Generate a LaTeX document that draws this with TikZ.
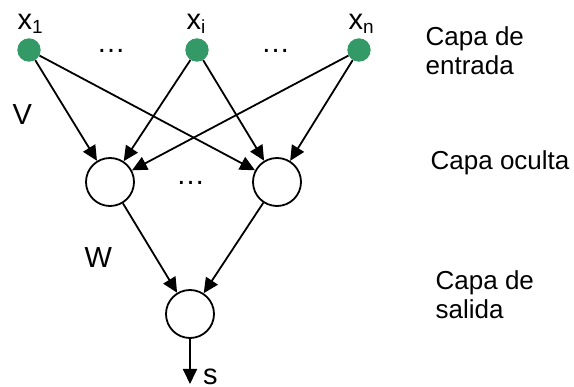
\documentclass[tikz,border=0pt]{standalone}
\usepackage{fontspec}
\setmainfont{Liberation Sans}
\usetikzlibrary{arrows.meta}
\definecolor{dotgreen}{RGB}{51,153,102}
\tikzset{
  inp/.style={circle, fill=dotgreen, draw=none, minimum size=23.4pt, inner sep=0pt},
  neuron/.style={circle, draw=black, line width=1.8pt, minimum size=48pt, inner sep=0pt},
  arr/.style={draw=black, line width=1.8pt, -{Triangle[length=15pt,width=14pt]}},
  lbl/.style={inner sep=0pt, anchor=base west, font=\fontsize{29}{32}\selectfont},
  layer/.style={inner sep=0pt, anchor=base west, font=\fontsize{26}{29}\selectfont},
  dots/.style={inner sep=0pt, anchor=center, font=\fontsize{29}{32}\selectfont},
}
\newcommand{\subsc}[1]{\raisebox{-3.2pt}{\fontsize{19}{19}\selectfont #1}}
\begin{document}
\begin{tikzpicture}[x=1pt,y=-1pt]
\useasboundingbox (0,0) rectangle (574,387);
% input nodes
\node[inp] (x1) at (29,50) {};
\node[inp] (xi) at (197,50) {};
\node[inp] (xn) at (359,50) {};
% hidden and output nodes
\node[neuron] (h1) at (110,182) {};
\node[neuron] (h2) at (277,182) {};
\node[neuron] (o) at (190,314) {};
\coordinate (send) at (190,384);
% labels
\node[lbl] (lx1) at (17.5,30) {x\subsc{1}};
\node[lbl] (lxi) at (186.5,30) {x\subsc{i}};
\node[lbl] (lxn) at (348.5,30) {x\subsc{n}};
\node[lbl] (lV) at (12.5,125) {V};
\node[lbl] (lW) at (84.5,268) {W};
\node[lbl] (ls) at (203,385) {s};
\node[dots] (d1) at (111,51) {\ldots};
\node[dots] (d2) at (275.5,51) {\ldots};
\node[dots] (d3) at (190.5,183) {\ldots};
% layer names
\node[layer] (c1a) at (425.5,46) {Capa de};
\node[layer] (c1b) at (425.5,75) {entrada};
\node[layer] (c2) at (430.5,170) {Capa oculta};
\node[layer] (c3a) at (435.5,289.5) {Capa de};
\node[layer] (c3b) at (435.5,318.5) {salida};
% connections
\draw[arr] (x1) -- (h1);
\draw[arr] (x1) -- (h2);
\draw[arr] (xi) -- (h1);
\draw[arr] (xi) -- (h2);
\draw[arr] (xn) -- (h1);
\draw[arr] (xn) -- (h2);
\draw[arr] (h1) -- (o);
\draw[arr] (h2) -- (o);
\draw[arr] (o) -- (send);
\end{tikzpicture}
\end{document}
